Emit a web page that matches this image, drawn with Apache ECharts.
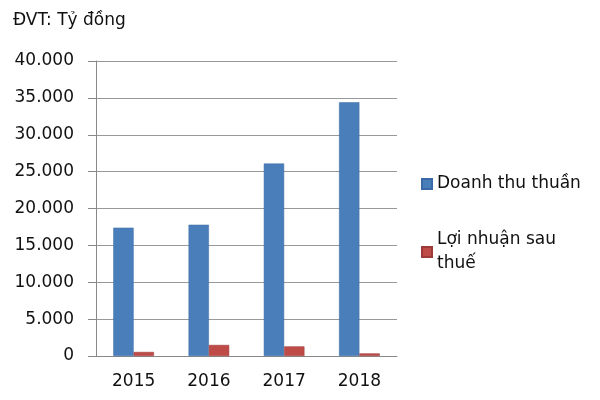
<!DOCTYPE html>
<html><head><meta charset="utf-8">
<script src="https://cdn.jsdelivr.net/npm/echarts@6/dist/echarts.min.js"></script>
<style>html,body{margin:0;padding:0;background:#fff}#c{width:600px;height:400px}</style>
</head><body><div id="c"></div>
<script>
const categories = ['2015', '2016', '2017', '2018'];
const revenue = [17400, 17800, 26100, 34400];
const profit = [550, 1500, 1300, 350];
const seriesNames = ['Doanh thu thuần', 'Lợi nhuận sau thuế'];
const unitLabel = 'ĐVT: Tỷ đồng';

const font = '"DejaVu Sans", "Noto Sans", sans-serif';
const chart = echarts.init(document.getElementById('c'));
chart.setOption({
  animation: false,
  title: { text: unitLabel, left: 8, top: 7, textStyle: { fontFamily: font, fontSize: 17, fontWeight: 'normal', color: '#111' } },
  grid: { left: 96, right: 203, top: 61, bottom: 44 },
  legend: {
    orient: 'vertical', left: 416, top: 167, itemWidth: 10, itemHeight: 10, itemGap: 32,
    icon: 'rect',
    data: seriesNames,
    formatter: n => n === 'Lợi nhuận sau thuế' ? 'Lợi nhuận sau\nthuế' : n,
    textStyle: { fontFamily: font, fontSize: 17, color: '#111', lineHeight: 24 }
  },
  xAxis: {
    type: 'category', data: categories,
    axisLine: { lineStyle: { color: '#888' } },
    axisTick: { length: 6, lineStyle: { color: '#888' } },
    axisLabel: { fontFamily: font, fontSize: 17, color: '#111', margin: 17 }
  },
  yAxis: {
    type: 'value', min: 0, max: 40000, interval: 5000,
    axisLine: { show: true, lineStyle: { color: '#888' } },
    axisTick: { show: true, length: 8, lineStyle: { color: '#888' } },
    splitLine: { lineStyle: { color: '#999' } },
    axisLabel: { fontFamily: font, fontSize: 17, color: '#111', margin: 22,
      formatter: v => v === 0 ? '0' : (v / 1000).toFixed(3) }
  },
  series: [
    { name: seriesNames[0], type: 'bar', data: revenue, barWidth: '27%', barGap: '0%',
      itemStyle: { color: '#4a7ebb', borderColor: '#3a6aa5', borderWidth: 0.5 } },
    { name: seriesNames[1], type: 'bar', data: profit, barWidth: '27%',
      itemStyle: { color: '#be4b48', borderColor: '#9e3a38', borderWidth: 0.5 } }
  ]
});
</script></body></html>
